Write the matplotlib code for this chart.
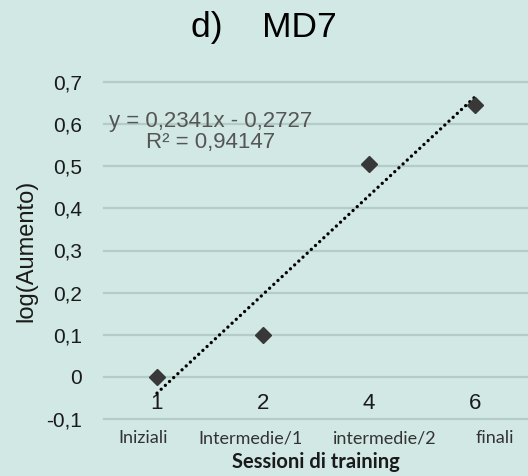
import matplotlib
matplotlib.use("Agg")
import matplotlib.pyplot as plt
import matplotlib.transforms as mtransforms
import numpy as np

# data
positions = [1, 2, 3, 4]
sessions = ["1", "2", "4", "6"]
phases = ["Iniziali", "Intermedie/1", "intermedie/2", "finali"]
log_gain = [0.0, 0.10, 0.506, 0.646]
eq_text = "y = 0,2341x - 0,2727\nR² = 0,94147"

BG = "#d1e8e4"
GRID = "#b5cbc7"

plt.rcParams["font.family"] = ["Liberation Sans", "DejaVu Sans"]

fig = plt.figure(figsize=(5.28, 4.76), dpi=100, facecolor=BG)
ax = fig.add_axes([104 / 528, 1 - 419 / 476, 1 - 104 / 528, (419 - 82) / 476])
ax.set_facecolor(BG)
ax.set_xlim(0.5, 4.5)
ax.set_ylim(-0.1, 0.7)

for s in ax.spines.values():
    s.set_visible(False)

yt = np.arange(-0.1, 0.71, 0.1)
ax.set_yticks(yt)
ax.set_yticklabels([("%g" % round(v, 1)).replace(".", ",") for v in yt], fontsize=15, color="#1a1a1a")
ax.tick_params(axis="y", length=0, pad=16)
ax.yaxis.grid(True, color=GRID, linewidth=1.6)
ax.set_axisbelow(True)
for gl in ax.get_ygridlines():
    gl.set_clip_on(False)

# session numbers inside the plot area, just above the bottom line
ax.set_xticks([])
trans = mtransforms.blended_transform_factory(ax.transData, ax.transAxes)
for x, s in zip(positions, sessions):
    ax.text(x, 0.015, s, transform=trans, ha="center", va="bottom",
            fontsize=16, color="#1a1a1a")

# phase labels (slightly shifted from the point columns as in the source)
phase_x = [143, 250, 385, 495]
for px, name in zip(phase_x, phases):
    fig.text(px / 528, 1 - 438 / 476, name, ha="center", va="center",
             fontsize=13, family="Lato", color="#333333")

fig.text(316 / 528, 1 - 462 / 476, "Sessioni di training", ha="center", va="center",
         fontsize=14.5, family="Lato", fontweight="bold", color="#1a1a1a")

ax.set_ylabel("log(Aumento)", fontsize=17, color="#1a1a1a", labelpad=6)

# trendline
coef = np.polyfit(positions, log_gain, 1)
xt = np.array([positions[0], positions[-1]])
ax.plot(xt, np.polyval(coef, xt), color="black", linewidth=2.4,
        linestyle=(0, (0.01, 1.7)), dash_capstyle="round", zorder=3)

ax.plot(positions, log_gain, linestyle="none", marker="D", markersize=8.3,
        color="#383838", zorder=4)

fig.text(211 / 528, 1 - 132 / 476, eq_text, ha="center", va="center",
         fontsize=16, color="#555555", linespacing=1.05)

fig.text(264 / 528, 1 - 28 / 476, "d)    MD7", ha="center", va="center",
         fontsize=25.5, color="black")

fig.savefig("out.png", dpi=100, facecolor=BG)
